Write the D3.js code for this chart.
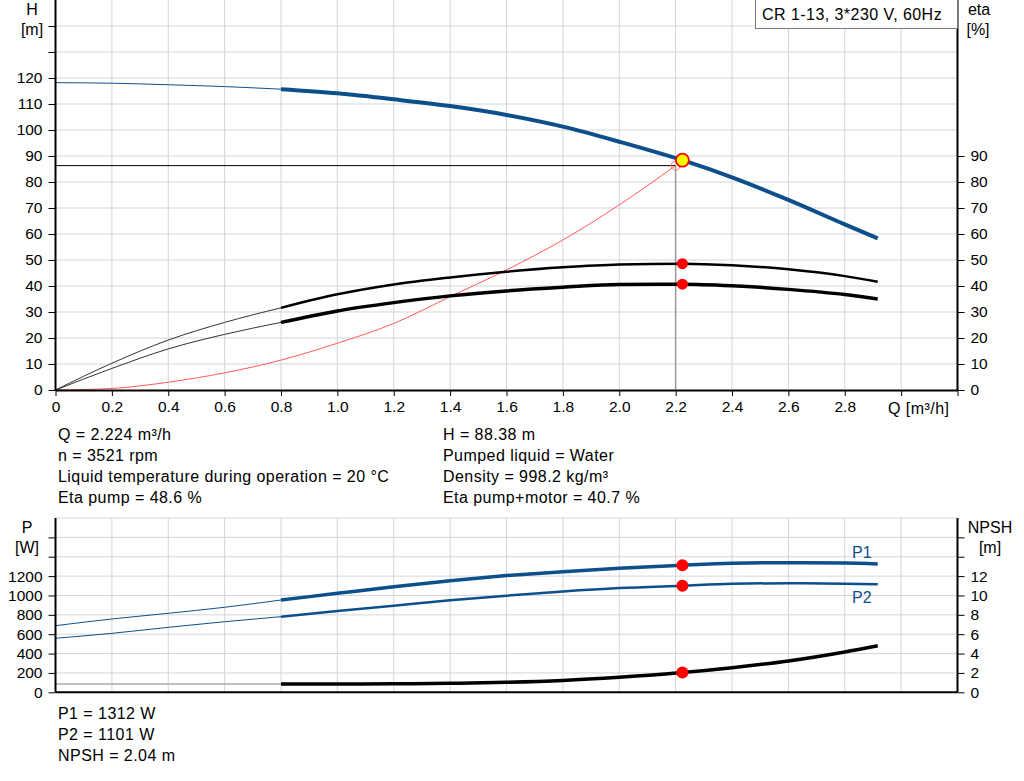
<!DOCTYPE html>
<html>
<head>
<meta charset="utf-8">
<script src="https://cdn.jsdelivr.net/npm/d3@7"></script>
<style>
  body { margin: 0; background: #fff; }
  svg { display: block; font-family: "Liberation Sans", Arial, sans-serif; }
  .axis path, .axis line { stroke: #000; }
  .axis text { font-size: 15.5px; fill: #000; }
  .grid line { stroke: #d2d5d9; stroke-width: 1; }
  .info { font-size: 16px; fill: #000; letter-spacing: 0.45px; }
  .unit { font-size: 16px; fill: #000; }
</style>
</head>
<body>
<svg id="chart" width="1024" height="781"></svg>
<script>
// flow points (m³/h) for the thin start and the thick working range
const qThin = [0, 0.2, 0.4, 0.6, 0.8];
const qMain = [0.8, 1.0, 1.2, 1.4, 1.6, 1.8, 2.0, 2.224, 2.4, 2.6, 2.8, 2.917];

// head H [m]
const headThin = [118.2, 118.0, 117.4, 116.7, 115.7];
const headMain = [115.7, 114.1, 111.8, 109.2, 105.8, 101.3, 95.5, 88.38, 81.8, 73.1, 63.7, 58.3];

// eta pump / eta pump+motor [%]
const etaPumpThin = [0, 10.3, 19.2, 26.0, 31.6];
const etaPumpMain = [31.6, 36.8, 40.6, 43.3, 45.5, 47.2, 48.3, 48.6, 48.0, 46.4, 43.8, 41.6];
const etaTotThin = [0, 8.3, 15.8, 21.4, 26.0];
const etaTotMain = [26.0, 30.4, 33.6, 36.2, 38.1, 39.5, 40.6, 40.7, 40.1, 38.7, 36.7, 35.0];

// system curve
const qSys = [0, 0.2, 0.4, 0.6, 0.8, 1.0, 1.2, 1.4, 1.6, 1.8, 2.0, 2.2];
const hSys = [0, 0.6, 3.0, 6.6, 11.5, 18.0, 25.6, 35.9, 46.2, 57.7, 71.2, 86.3];

// power P1 / P2 [W]
const p1Thin = [688, 757, 816, 878, 953];
const p1Main = [953, 1022, 1091, 1153, 1205, 1246, 1280, 1312, 1332, 1339, 1335, 1325];
const p2Thin = [558, 609, 671, 729, 781];
const p2Main = [781, 840, 894, 950, 998, 1041, 1076, 1101, 1120, 1126, 1122, 1115];

// NPSH [m]
const npshThin = [0.86, 0.86, 0.86, 0.86, 0.86];
const npshMain = [0.86, 0.86, 0.88, 0.93, 1.03, 1.22, 1.55, 2.04, 2.54, 3.24, 4.17, 4.81];

// duty point
const dutyQ = 2.224, dutyH = 88.38, dutyEtaPump = 48.6, dutyEtaTot = 40.7, dutyP1 = 1312, dutyP2 = 1101, dutyNpsh = 2.04;
const reqQ = 2.2, reqH = 86.3;

// ticks
const qTicks = d3.range(0, 3.21, 0.2);
const qLabels = ["0", "0.2", "0.4", "0.6", "0.8", "1.0", "1.2", "1.4", "1.6", "1.8", "2.0", "2.2", "2.4", "2.6", "2.8"];
const hTicks = d3.range(0, 141, 10);
const etaTicks = d3.range(0, 91, 10);
const pTicks = d3.range(0, 1601, 200);
const npshTicks = d3.range(0, 17, 2);

const infoTopLeft = ["Q = 2.224 m³/h", "n = 3521 rpm", "Liquid temperature during operation = 20 °C", "Eta pump = 48.6 %"];
const infoTopRight = ["H = 88.38 m", "Pumped liquid = Water", "Density = 998.2 kg/m³", "Eta pump+motor = 40.7 %"];
const infoBottom = ["P1 = 1312 W", "P2 = 1101 W", "NPSH = 2.04 m"];

const blue = "#0c4f8b";
const svg = d3.select("#chart");

const x = d3.scaleLinear().domain([0, 3.2]).range([55.5, 957.5]);
const yH = d3.scaleLinear().domain([0, 150]).range([390, 0]);
const yEta = d3.scaleLinear().domain([0, 150]).range([390, 0]);
const yP = d3.scaleLinear().domain([0, 1800]).range([692.3, 518]);
const yN = d3.scaleLinear().domain([0, 18]).range([692.3, 518]);

const pairs = (qs, vs) => qs.map((q, i) => [q, vs[i]]);
const lineFor = ys => d3.line().x(d => x(d[0])).y(d => ys(d[1])).curve(d3.curveMonotoneX);

// ---------- top chart ----------
const gTop = svg.append("g");

gTop.append("g").attr("class", "grid")
    .selectAll("line").data(qTicks.slice(1, -1)).join("line")
    .attr("x1", d => x(d)).attr("x2", d => x(d)).attr("y1", 0).attr("y2", 390);
gTop.append("g").attr("class", "grid")
    .selectAll("line").data(hTicks.slice(1)).join("line")
    .attr("x1", x(0)).attr("x2", x(3.2)).attr("y1", d => yH(d)).attr("y2", d => yH(d));

// requested duty lines
gTop.append("line").attr("x1", x(0)).attr("x2", x(reqQ)).attr("y1", yH(reqH)).attr("y2", yH(reqH))
    .attr("stroke", "#000").attr("stroke-width", 1);
gTop.append("line").attr("x1", x(reqQ)).attr("x2", x(reqQ)).attr("y1", yH(reqH)).attr("y2", yH(0))
    .attr("stroke", "#999").attr("stroke-width", 1.5);

// system curve
gTop.append("path").attr("d", lineFor(yH)(pairs(qSys, hSys)))
    .attr("fill", "none").attr("stroke", "#ff5a5a").attr("stroke-width", 1);
gTop.append("circle").attr("cx", x(reqQ)).attr("cy", yH(reqH)).attr("r", 4.5)
    .attr("fill", "none").attr("stroke", "#ff7a7a").attr("stroke-width", 1);

// eta curves
gTop.append("path").attr("d", lineFor(yEta)(pairs(qThin, etaPumpThin)))
    .attr("fill", "none").attr("stroke", "#333").attr("stroke-width", 1);
gTop.append("path").attr("d", lineFor(yEta)(pairs(qMain, etaPumpMain)))
    .attr("fill", "none").attr("stroke", "#000").attr("stroke-width", 2.5);
gTop.append("path").attr("d", lineFor(yEta)(pairs(qThin, etaTotThin)))
    .attr("fill", "none").attr("stroke", "#333").attr("stroke-width", 1);
gTop.append("path").attr("d", lineFor(yEta)(pairs(qMain, etaTotMain)))
    .attr("fill", "none").attr("stroke", "#000").attr("stroke-width", 3.5);

// head curve
gTop.append("path").attr("d", lineFor(yH)(pairs(qThin, headThin)))
    .attr("fill", "none").attr("stroke", blue).attr("stroke-width", 1);
gTop.append("path").attr("d", lineFor(yH)(pairs(qMain, headMain)))
    .attr("fill", "none").attr("stroke", blue).attr("stroke-width", 4);

gTop.selectAll(".etaDot").data([dutyEtaPump, dutyEtaTot]).join("circle")
    .attr("cx", x(dutyQ)).attr("cy", d => yEta(d)).attr("r", 5.5).attr("fill", "#ff0000");
gTop.append("circle").attr("cx", x(dutyQ)).attr("cy", yH(dutyH)).attr("r", 6.5)
    .attr("fill", "#ffff00").attr("stroke", "#ff0000").attr("stroke-width", 1.8);

// axes
gTop.append("g").attr("class", "axis").attr("transform", `translate(${x(0)},0)`)
    .call(d3.axisLeft(yH).tickValues(hTicks).tickSize(7).tickPadding(6).tickSizeOuter(0)
        .tickFormat(d => d <= 120 ? d : ""))
    .call(g => g.select(".domain").attr("d", "M0,0V390").attr("stroke-width", 2));
gTop.append("g").attr("class", "axis").attr("transform", `translate(${x(3.2)},0)`)
    .call(d3.axisRight(yEta).tickValues(etaTicks).tickSize(7).tickPadding(6).tickSizeOuter(0))
    .call(g => g.select(".domain").attr("d", "M0,0V390").attr("stroke-width", 2));
gTop.append("g").attr("class", "axis").attr("transform", "translate(0,390)")
    .call(d3.axisBottom(x).tickValues(qTicks).tickSize(6).tickPadding(5).tickSizeOuter(0)
        .tickFormat((d, i) => qLabels[i] || ""))
    .call(g => g.select(".domain").attr("stroke-width", 2));

gTop.append("text").attr("class", "info").attr("x", 888).attr("y", 413.5).text("Q [m³/h]");
gTop.append("text").attr("class", "unit").attr("x", 32).attr("y", 15).attr("text-anchor", "middle").text("H");
gTop.append("text").attr("class", "unit").attr("x", 32).attr("y", 35).attr("text-anchor", "middle").text("[m]");
gTop.append("text").attr("class", "unit").attr("x", 979).attr("y", 15).attr("text-anchor", "middle").text("eta");
gTop.append("text").attr("class", "unit").attr("x", 978).attr("y", 35).attr("text-anchor", "middle").text("[%]");

gTop.append("rect").attr("x", 755.5).attr("y", -0.5).attr("width", 202).attr("height", 29)
    .attr("fill", "#fff").attr("stroke", "#777");
gTop.append("text").attr("class", "info").attr("x", 762).attr("y", 20).text("CR 1-13, 3*230 V, 60Hz");

gTop.selectAll(".infoL").data(infoTopLeft).join("text").attr("class", "info")
    .attr("x", 58).attr("y", (d, i) => 439.5 + i * 21).text(d => d);
gTop.selectAll(".infoR").data(infoTopRight).join("text").attr("class", "info")
    .attr("x", 443).attr("y", (d, i) => 439.5 + i * 21).text(d => d);

// ---------- bottom chart ----------
const gBot = svg.append("g");

gBot.append("g").attr("class", "grid")
    .selectAll("line").data(qTicks.slice(1, -1)).join("line")
    .attr("x1", d => x(d)).attr("x2", d => x(d)).attr("y1", yP(1800)).attr("y2", yP(0));
gBot.append("g").attr("class", "grid")
    .selectAll("line").data(d3.range(200, 1801, 200)).join("line")
    .attr("x1", x(0)).attr("x2", x(3.2)).attr("y1", d => yP(d)).attr("y2", d => yP(d));

gBot.append("path").attr("d", lineFor(yN)(pairs(qThin, npshThin)))
    .attr("fill", "none").attr("stroke", "#aaa").attr("stroke-width", 1.5);
gBot.append("path").attr("d", lineFor(yN)(pairs(qMain, npshMain)))
    .attr("fill", "none").attr("stroke", "#000").attr("stroke-width", 3.5);
gBot.append("path").attr("d", lineFor(yP)(pairs(qThin, p2Thin)))
    .attr("fill", "none").attr("stroke", blue).attr("stroke-width", 1);
gBot.append("path").attr("d", lineFor(yP)(pairs(qMain, p2Main)))
    .attr("fill", "none").attr("stroke", blue).attr("stroke-width", 2.5);
gBot.append("path").attr("d", lineFor(yP)(pairs(qThin, p1Thin)))
    .attr("fill", "none").attr("stroke", blue).attr("stroke-width", 1);
gBot.append("path").attr("d", lineFor(yP)(pairs(qMain, p1Main)))
    .attr("fill", "none").attr("stroke", blue).attr("stroke-width", 3.5);

gBot.selectAll(".pDot").data([yP(dutyP1), yP(dutyP2), yN(dutyNpsh)]).join("circle")
    .attr("cx", x(dutyQ)).attr("cy", d => d).attr("r", 6).attr("fill", "#ff0000");

gBot.append("text").attr("class", "unit").attr("x", 852).attr("y", 557.5).style("fill", blue).text("P1");
gBot.append("text").attr("class", "unit").attr("x", 852).attr("y", 603).style("fill", blue).text("P2");

gBot.append("g").attr("class", "axis").attr("transform", `translate(${x(0)},0)`)
    .call(d3.axisLeft(yP).tickValues(pTicks).tickSize(7).tickPadding(6).tickSizeOuter(0)
        .tickFormat(d => d <= 1200 ? d : ""))
    .call(g => g.select(".domain").attr("d", `M0,${yP(1800)}V${yP(0)}`).attr("stroke-width", 2));
gBot.append("g").attr("class", "axis").attr("transform", `translate(${x(3.2)},0)`)
    .call(d3.axisRight(yN).tickValues(npshTicks).tickSize(7).tickPadding(6).tickSizeOuter(0)
        .tickFormat(d => d <= 12 ? d : ""))
    .call(g => g.select(".domain").attr("d", `M0,${yN(18)}V${yN(0)}`).attr("stroke-width", 2));
gBot.append("line").attr("x1", x(0)).attr("x2", x(3.2)).attr("y1", yP(0)).attr("y2", yP(0))
    .attr("stroke", "#000").attr("stroke-width", 2);

gBot.append("text").attr("class", "unit").attr("x", 27).attr("y", 533).attr("text-anchor", "middle").text("P");
gBot.append("text").attr("class", "unit").attr("x", 27).attr("y", 553).attr("text-anchor", "middle").text("[W]");
gBot.append("text").attr("class", "unit").attr("x", 990).attr("y", 533).attr("text-anchor", "middle").text("NPSH");
gBot.append("text").attr("class", "unit").attr("x", 990).attr("y", 553).attr("text-anchor", "middle").text("[m]");

gBot.selectAll(".infoB").data(infoBottom).join("text").attr("class", "info")
    .attr("x", 58).attr("y", (d, i) => 718.5 + i * 21).text(d => d);
</script>
</body>
</html>
